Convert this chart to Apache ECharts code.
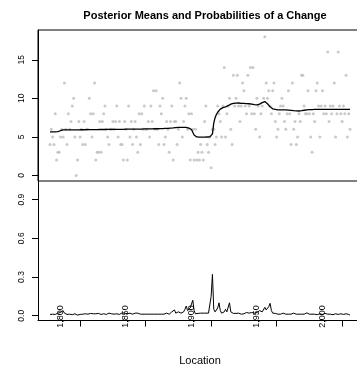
<!DOCTYPE html>
<html>
  <head>
    <meta charset="utf-8" />
    <title>Posterior Means and Probabilities of a Change</title>
    <script src="https://cdn.jsdelivr.net/npm/echarts@6/dist/echarts.min.js"></script>
  </head>
  <body>
    <style>
      html, body { margin: 0; padding: 0; background: #fff; }
      #main { width: 357px; height: 372px; }
    </style>
    <div id="main"></div>
    <script type="text/javascript">
      // one observation per year, first year below
      var startYear = 1792;

      var counts = [
        4, 6, 5, 4, 8, 2, 3, 3, 5, 6,
        5, 12, 6, 4, 8, 6, 7, 9, 10, 5,
        0, 2, 7, 5, 6, 4, 7, 4, 6, 6,
        10, 8, 5, 8, 12, 2, 3, 3, 7, 3,
        7, 8, 9, 6, 5, 4, 6, 6, 7, 6,
        7, 9, 5, 7, 4, 4, 2, 7, 6, 2,
        9, 5, 7, 4, 6, 7, 5, 3, 8, 4,
        8, 6, 9, 6, 6, 7, 5, 9, 7, 11,
        6, 11, 6, 4, 9, 8, 10, 4, 5, 7,
        6, 3, 7, 9, 2, 7, 7, 4, 6, 12,
        10, 5, 7, 9, 10, 6, 8, 2, 8, 6,
        2, 6, 2, 3, 2, 4, 3, 2, 7, 9,
        4, 3, 5, 1, 6, 6, 4, 5, 9, 8,
        7, 5, 9, 14, 5, 8, 9, 10, 6, 4,
        13, 9, 10, 13, 9, 7, 9, 12, 11, 9,
        8, 13, 9, 14, 8, 14, 8, 6, 10, 9,
        5, 8, 9, 10, 18, 12, 10, 11, 9, 8,
        11, 12, 7, 5, 6, 8, 9, 10, 9, 7,
        6, 8, 11, 8, 4, 12, 6, 7, 4, 5,
        8, 7, 13, 13, 9, 8, 8, 11, 8, 5,
        3, 8, 7, 11, 12, 9, 5, 9, 11, 8,
        9, 8, 16, 7, 9, 8, 9, 12, 5, 8,
        16, 9, 8, 7, 9, 8, 13, 5, 8, 6
      ];

      var postMeans = [
        5.65, 5.65, 5.65, 5.65, 5.65, 5.66, 5.68, 5.7, 5.8, 5.88,
        5.9, 5.9, 5.9, 5.9, 5.9, 5.91, 5.91, 5.91, 5.92, 5.92,
        5.92, 5.92, 5.92, 5.93, 5.93, 5.93, 5.93, 5.93, 5.94, 5.94,
        5.94, 5.94, 5.95, 5.95, 5.95, 5.95, 5.95, 5.95, 5.96, 5.96,
        5.96, 5.96, 5.96, 5.97, 5.97, 5.97, 5.97, 5.97, 5.98, 5.98,
        5.98, 5.98, 5.98, 5.98, 5.99, 5.99, 5.99, 5.99, 6.0, 6.0,
        6.0, 6.0, 6.0, 6.0, 6.01, 6.01, 6.01, 6.02, 6.02, 6.02,
        6.02, 6.03, 6.03, 6.03, 6.04, 6.04, 6.04, 6.05, 6.05, 6.05,
        6.06, 6.06, 6.06, 6.07, 6.07, 6.08, 6.08, 6.09, 6.1, 6.1,
        6.11, 6.12, 6.14, 6.15, 6.17, 6.19, 6.21, 6.22, 6.23, 6.24,
        6.25, 6.26, 6.25, 6.25, 6.24, 6.2, 6.15, 6.1, 5.95, 5.6,
        5.25, 5.05, 5.0, 4.98, 4.97, 4.97, 4.97, 4.97, 4.98, 4.98,
        4.99, 5.0, 5.0, 5.05, 5.4, 6.8, 7.5, 7.9, 8.2, 8.45,
        8.6, 8.7, 8.8, 8.85, 8.9, 8.95, 9.05, 9.15, 9.25, 9.3,
        9.35, 9.37, 9.38, 9.4, 9.4, 9.38, 9.36, 9.35, 9.35, 9.34,
        9.33, 9.32, 9.3, 9.28, 9.25, 9.22, 9.18, 9.15, 9.15, 9.18,
        9.25, 9.35, 9.45, 9.55, 9.58, 9.45, 9.3, 9.1, 8.9, 8.75,
        8.65, 8.6, 8.56, 8.54, 8.52, 8.5, 8.5, 8.5, 8.5, 8.5,
        8.5, 8.5, 8.48, 8.46, 8.44, 8.42, 8.4, 8.38, 8.37, 8.36,
        8.36, 8.37, 8.4, 8.43, 8.46, 8.5, 8.52, 8.53, 8.54, 8.55,
        8.55, 8.55, 8.56, 8.56, 8.56, 8.57, 8.57, 8.57, 8.57, 8.58,
        8.58, 8.58, 8.58, 8.58, 8.58, 8.58, 8.58, 8.58, 8.58, 8.58,
        8.58, 8.58, 8.58, 8.58, 8.58, 8.58, 8.58, 8.58, 8.58, 8.58
      ];

      var postProbs = [
        0.01, 0.008, 0.012, 0.015, 0.01, 0.012, 0.02, 0.018, 0.025, 0.03,
        0.04, 0.02, 0.012, 0.01, 0.015, 0.012, 0.01, 0.008, 0.012, 0.015,
        0.01, 0.005, 0.012, 0.01, 0.015, 0.012, 0.02, 0.015, 0.01, 0.012,
        0.015, 0.018, 0.012, 0.015, 0.02, 0.015, 0.012, 0.018, 0.015, 0.01,
        0.012, 0.015, 0.012, 0.01, 0.015, 0.02, 0.012, 0.015, 0.01, 0.012,
        0.018, 0.015, 0.012, 0.01, 0.015, 0.022, 0.03, 0.02, 0.012, 0.015,
        0.018, 0.02, 0.015, 0.012, 0.018, 0.02, 0.022, 0.02, 0.015, 0.012,
        0.01, 0.012, 0.015, 0.012, 0.01, 0.012, 0.015, 0.012, 0.01, 0.012,
        0.015, 0.012, 0.01, 0.012, 0.015, 0.012, 0.01, 0.012, 0.015, 0.02,
        0.015, 0.012, 0.015, 0.03, 0.02, 0.045, 0.02, 0.015, 0.03, 0.025,
        0.02, 0.035, 0.03, 0.05, 0.075, 0.04, 0.03, 0.06, 0.09, 0.12,
        0.04, 0.015, 0.02, 0.018, 0.022, 0.02, 0.018, 0.02, 0.015, 0.02,
        0.018, 0.02, 0.025, 0.15, 0.32, 0.05, 0.03, 0.04, 0.06, 0.10,
        0.04, 0.02, 0.025, 0.03, 0.05, 0.03, 0.04, 0.10, 0.03, 0.02,
        0.018, 0.015, 0.018, 0.015, 0.02, 0.015, 0.012, 0.018, 0.015, 0.02,
        0.025, 0.018, 0.02, 0.03, 0.025, 0.015, 0.02, 0.018, 0.025, 0.03,
        0.04, 0.035, 0.03, 0.04, 0.065, 0.045, 0.05, 0.07, 0.096, 0.04,
        0.02, 0.015, 0.018, 0.015, 0.012, 0.015, 0.012, 0.015, 0.02, 0.015,
        0.012, 0.015, 0.012, 0.01, 0.012, 0.015, 0.02, 0.015, 0.012, 0.01,
        0.012, 0.015, 0.012, 0.01, 0.012, 0.015, 0.022, 0.015, 0.012, 0.01,
        0.012, 0.015, 0.012, 0.01, 0.008, 0.012, 0.015, 0.012, 0.01, 0.012,
        0.018, 0.015, 0.012, 0.01, 0.012, 0.01, 0.008, 0.012, 0.015, 0.012,
        0.01, 0.012, 0.015, 0.012, 0.01, 0.012, 0.015, 0.012, 0.01, 0.005
      ];

      var topTicks = [0, 5, 10, 15];
      var bottomTicks = [0, 0.3, 0.6, 0.9];
      var xTickYears = [1815, 1865, 1915, 1965, 2015];
      var xLabelYears = [1800, 1850, 1900, 1950, 2000];

      var FONT = '"Liberation Sans", Arial, Helvetica, sans-serif';

      function pairs(vals) {
        return vals.map(function (v, i) { return [startYear + i, v]; });
      }

      // R pads the range by 4% on each side
      var n = counts.length;
      var pad = (n - 1) * 0.04;
      var xMin = startYear - pad;
      var xMax = startYear + n - 1 + pad;

      var chart = echarts.init(document.getElementById('main'), null, { renderer: 'canvas' });

      var option = {
        animation: false,
        backgroundColor: '#ffffff',
        textStyle: { fontFamily: FONT },
        title: {
          text: 'Posterior Means and Probabilities of a Change',
          left: 200,
          top: 5,
          textAlign: 'center',
          textStyle: { fontSize: 11, fontWeight: 'bold', color: '#000', fontFamily: FONT }
        },
        grid: [
          { left: 38, top: 30, width: 324, height: 151, show: true, outerBoundsMode: 'none',
            borderColor: '#000', borderWidth: 1, backgroundColor: 'transparent' },
          { left: 38, top: 181, width: 324, height: 139.5, outerBoundsMode: 'none' }
        ],
        xAxis: [
          { gridIndex: 0, type: 'value', min: xMin, max: xMax,
            axisLine: { show: false }, axisTick: { show: false },
            axisLabel: { show: false }, splitLine: { show: false } },
          { gridIndex: 1, type: 'value', min: xMin, max: xMax,
            axisLine: { show: true, onZero: false, lineStyle: { color: '#000', width: 1 } },
            axisTick: { show: true, customValues: xTickYears, length: 6,
              lineStyle: { color: '#000' } },
            axisLabel: { show: false }, splitLine: { show: false } },
          { gridIndex: 1, type: 'value', min: xMin, max: xMax,
            position: 'bottom',
            axisLine: { show: false }, axisTick: { show: false }, splitLine: { show: false },
            axisLabel: { show: true, customValues: xLabelYears, rotate: 90, margin: -4,
              align: 'center', verticalAlign: 'middle',
              fontSize: 9, color: '#000', fontFamily: FONT,
              showMinLabel: true, showMaxLabel: true },
            name: 'Location', nameLocation: 'middle', nameGap: 35,
            nameTextStyle: { fontSize: 11, color: '#000', fontFamily: FONT } }
        ],
        yAxis: [
          { gridIndex: 0, type: 'value', min: -0.72, max: 18.87,
            axisLine: { show: true, lineStyle: { color: '#000' } },
            axisTick: { show: true, customValues: topTicks, length: 6,
              lineStyle: { color: '#000' } },
            axisLabel: { show: true, customValues: topTicks, rotate: 90, margin: 12,
              fontSize: 8.5, color: '#000', fontFamily: FONT },
            splitLine: { show: false } },
          { gridIndex: 1, type: 'value', min: -0.037, max: 1.044,
            axisLine: { show: true, lineStyle: { color: '#000' } },
            axisTick: { show: true, customValues: bottomTicks, length: 6,
              lineStyle: { color: '#000' } },
            axisLabel: { show: true, customValues: bottomTicks, rotate: 90, margin: 12,
              fontSize: 8.5, color: '#000', fontFamily: FONT,
              formatter: function (v) { return v.toFixed(1); } },
            splitLine: { show: false } }
        ],
        series: [
          { name: 'data', type: 'scatter', xAxisIndex: 0, yAxisIndex: 0,
            data: pairs(counts), symbol: 'circle', symbolSize: 3,
            itemStyle: { color: '#bdbdbd' }, silent: true },
          { name: 'posterior mean', type: 'line', xAxisIndex: 0, yAxisIndex: 0,
            data: pairs(postMeans), showSymbol: false,
            lineStyle: { color: '#000', width: 1.3 }, silent: true },
          { name: 'posterior prob', type: 'line', xAxisIndex: 1, yAxisIndex: 1,
            data: pairs(postProbs), showSymbol: false,
            lineStyle: { color: '#000', width: 1 }, silent: true }
        ]
      };

      chart.setOption(option);
    </script>
  </body>
</html>
